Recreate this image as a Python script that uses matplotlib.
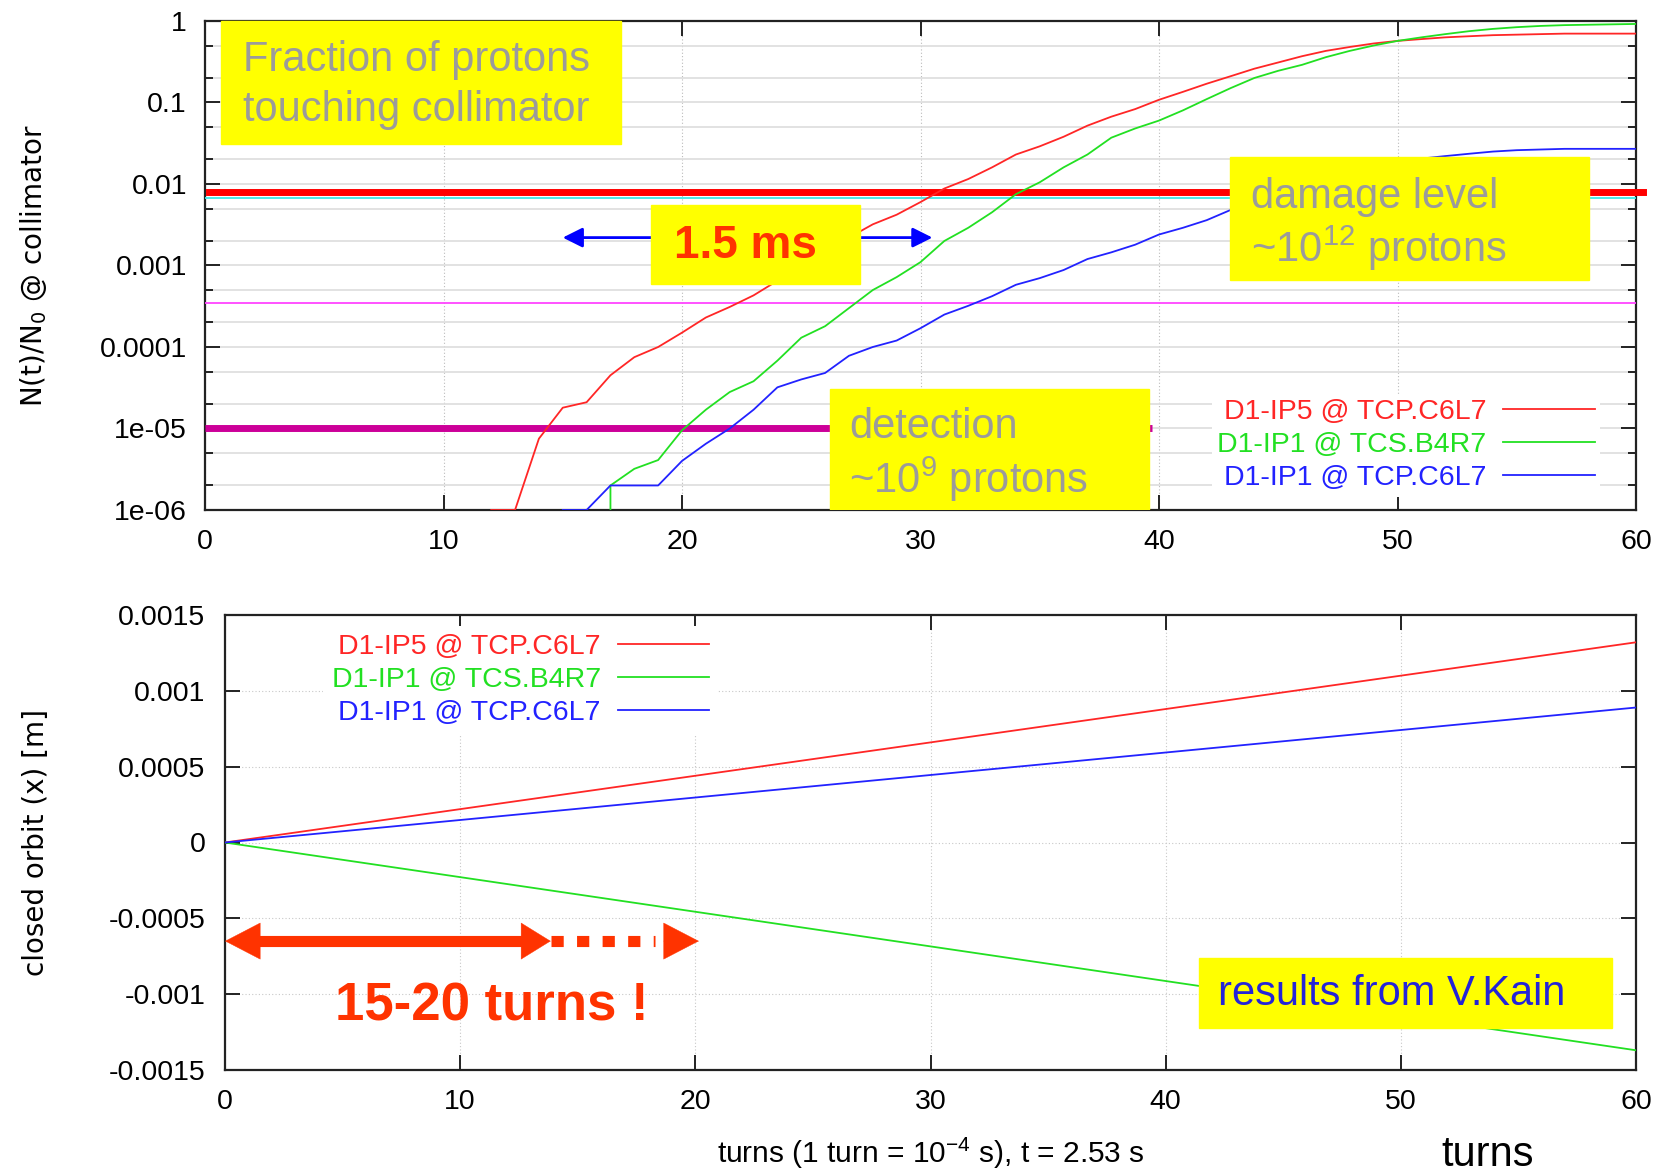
import matplotlib
matplotlib.use("Agg")
import matplotlib.pyplot as plt
import numpy as np
from matplotlib.patches import Rectangle, FancyArrowPatch
from matplotlib.ticker import FixedLocator, FixedFormatter, LogLocator, NullFormatter

ARIAL = 'Liberation Sans'
NARROW = 'Liberation Sans'

plt.rcParams['mathtext.fontset'] = 'custom'
plt.rcParams['mathtext.rm'] = ARIAL
plt.rcParams['mathtext.it'] = ARIAL

# ---------------- data ----------------
series_labels = ["D1-IP5 @ TCP.C6L7", "D1-IP1 @ TCS.B4R7", "D1-IP1 @ TCP.C6L7"]
series_colors = ["#FF2626", "#22E022", "#2222FF"]

red_turns = [12, 13, 14, 15, 16, 17, 18, 19, 20, 21, 22, 23, 24, 25, 26, 27, 28, 29,
             30, 31, 32, 33, 34, 35, 36, 37, 38, 39, 40, 41, 42, 43, 44, 45, 46, 47,
             48, 49, 50, 51, 52, 53, 54, 55, 56, 57, 58, 59, 60]
red_frac = [1e-6, 1e-6, 7.5e-6, 1.8e-5, 2.1e-5, 4.5e-5, 7.5e-5, 1.0e-4, 1.5e-4, 2.3e-4,
            3.1e-4, 4.3e-4, 6.5e-4, 1.0e-3, 1.5e-3, 2.2e-3, 3.2e-3, 4.2e-3, 6.0e-3,
            8.8e-3, 1.15e-2, 1.6e-2, 2.3e-2, 2.9e-2, 3.8e-2, 5.2e-2, 6.7e-2, 8.3e-2,
            0.108, 0.135, 0.17, 0.21, 0.26, 0.31, 0.37, 0.43, 0.48, 0.53, 0.57, 0.60,
            0.63, 0.65, 0.67, 0.68, 0.69, 0.70, 0.70, 0.70, 0.70]

green_turns = [17, 17, 18, 19, 20, 21, 22, 23, 24, 25, 26, 27, 28, 29, 30, 31, 32, 33,
               34, 35, 36, 37, 38, 39, 40, 41, 42, 43, 44, 45, 46, 47, 48, 49, 50, 51,
               52, 53, 54, 55, 56, 57, 58, 59, 60]
green_frac = [1e-6, 2e-6, 3.2e-6, 4.1e-6, 9.5e-6, 1.7e-5, 2.8e-5, 3.8e-5, 6.8e-5, 1.3e-4,
              1.8e-4, 3.0e-4, 5.0e-4, 7.2e-4, 1.1e-3, 2.0e-3, 2.9e-3, 4.5e-3, 7.5e-3,
              1.05e-2, 1.6e-2, 2.3e-2, 3.7e-2, 4.8e-2, 6.0e-2, 8.0e-2, 0.11, 0.15, 0.20,
              0.245, 0.29, 0.36, 0.43, 0.50, 0.57, 0.63, 0.69, 0.75, 0.80, 0.84, 0.87,
              0.89, 0.90, 0.91, 0.92]

blue_turns = [15, 16, 17, 18, 19, 20, 21, 22, 23, 24, 25, 26, 27, 28, 29, 30, 31, 32,
              33, 34, 35, 36, 37, 38, 39, 40, 41, 42, 43, 44, 45, 46, 47, 48, 49, 50,
              51, 52, 53, 54, 55, 56, 57, 58, 59, 60]
blue_frac = [1e-6, 1e-6, 2e-6, 2e-6, 2e-6, 4e-6, 6.5e-6, 1.0e-5, 1.7e-5, 3.2e-5, 4.0e-5,
             4.8e-5, 7.8e-5, 1.0e-4, 1.2e-4, 1.7e-4, 2.5e-4, 3.2e-4, 4.2e-4, 5.8e-4,
             7.0e-4, 8.8e-4, 1.2e-3, 1.45e-3, 1.8e-3, 2.4e-3, 2.9e-3, 3.6e-3, 4.8e-3,
             6.2e-3, 8.0e-3, 1.0e-2, 1.2e-2, 1.45e-2, 1.7e-2, 1.9e-2, 2.05e-2, 2.2e-2,
             2.35e-2, 2.5e-2, 2.6e-2, 2.65e-2, 2.7e-2, 2.7e-2, 2.7e-2, 2.7e-2]

damage_level = 0.008
cyan_level = 0.0068
magenta_level = 3.5e-4
detection_level = 1.0e-5
detection_end_turn = 39.7
time_arrow_turns = [15.0, 30.5]
time_arrow_level = 0.0022

orbit_turns = [0, 60]
orbit_red = [0.0, 0.00132]
orbit_green = [0.0, -0.00137]
orbit_blue = [0.0, 0.00089]

turns_arrow_shaft = [0.8, 13.0]
turns_arrow_left_head = [1.5, 0.0]
turns_arrow_mid_head = [12.5, 13.85]
turns_arrow_dotted = [13.85, 18.3]
turns_arrow_end_head = [18.65, 20.15]
turns_arrow_level = -0.00065

top_yticks = [1, 0.1, 0.01, 0.001, 0.0001, 1e-5, 1e-6]
top_yticklabels = ["1", "0.1", "0.01", "0.001", "0.0001", "1e-05", "1e-06"]
bot_yticks = [0.0015, 0.001, 0.0005, 0, -0.0005, -0.001, -0.0015]
bot_yticklabels = ["0.0015", "0.001", "0.0005", "0", "-0.0005", "-0.001", "-0.0015"]
xticks = [0, 10, 20, 30, 40, 50, 60]

# ---------------- figure ----------------
W, H = 1669, 1172
fig = plt.figure(figsize=(W / 100, H / 100), dpi=100)
fig.patch.set_facecolor("white")

ax1 = fig.add_axes([205 / W, 1 - 510 / H, 1431 / W, 489 / H])
ax2 = fig.add_axes([225 / W, 1 - 1070 / H, 1411 / W, 455 / H])

TICK_FS = 20.5
for ax in (ax1, ax2):
    for s in ax.spines.values():
        s.set_linewidth(1.6)
        s.set_color("#222222")
    ax.tick_params(which="both", direction="in", top=True, right=True,
                   labelsize=TICK_FS, width=1.4, color="#222222")
    ax.tick_params(which="major", length=11)
    ax.tick_params(which="minor", length=6)

# ---- top panel ----
ax1.set_yscale("log")
ax1.set_xlim(0, 60)
ax1.set_ylim(1e-6, 1)
ax1.yaxis.set_major_locator(FixedLocator(top_yticks))
ax1.yaxis.set_major_formatter(FixedFormatter(top_yticklabels))
ax1.yaxis.set_minor_locator(LogLocator(base=10, subs=(2.0, 5.0)))
ax1.yaxis.set_minor_formatter(NullFormatter())
ax1.set_xticks(xticks)
ax1.set_xticklabels([str(t) for t in xticks])
ax1.tick_params(axis="x", pad=14)
ax1.tick_params(axis="y", pad=13)
ax1.grid(axis="y", which="both", color="#DDDDDD", lw=1.2, ls="-")
ax1.grid(axis="x", which="major", color="#BBBBBB", lw=0.8, ls=(0, (1, 2)))
ax1.set_axisbelow(True)

ax1.axhline(damage_level, xmin=0.003, xmax=1.005, color="#FF0000", lw=5, clip_on=False, zorder=3)
ax1.axhline(cyan_level, color="#40E8E8", lw=1.3, zorder=3)
ax1.axhline(magenta_level, color="#FF44FF", lw=1.3, zorder=3)
ax1.plot([0, detection_end_turn], [detection_level, detection_level], color="#CC0099",
         lw=5, zorder=3, solid_capstyle="butt")

lines = []
for xs, ys, c, lab in zip([red_turns, green_turns, blue_turns],
                          [red_frac, green_frac, blue_frac],
                          series_colors, series_labels):
    l, = ax1.plot(xs, ys, color=c, lw=1.3, label=lab, zorder=4)
    lines.append(l)

ax1.annotate("", xy=(time_arrow_turns[0], time_arrow_level),
             xytext=(time_arrow_turns[1], time_arrow_level),
             arrowprops=dict(arrowstyle="<|-|>,head_length=0.6,head_width=0.3",
                             color="#0000FF", lw=2, mutation_scale=20,
                             shrinkA=0, shrinkB=0), zorder=5)

YEL = "#FFFF00"
GREY = "#9B9B9B"
TA = ax1.transAxes
ax1.add_patch(Rectangle((0.011, 0.748), 0.280, 0.252, transform=TA, color=YEL, zorder=6, clip_on=False))
ax1.text(0.0266, 0.921, "Fraction of protons", transform=TA, fontsize=30, color=GREY,
         family=ARIAL, va="center", ha="left", zorder=7)
ax1.text(0.0266, 0.818, "touching collimator", transform=TA, fontsize=30, color=GREY,
         family=ARIAL, va="center", ha="left", zorder=7)

ax1.add_patch(Rectangle((0.312, 0.462), 0.146, 0.162, transform=TA, color=YEL, zorder=6))
ax1.text(0.378, 0.540, "1.5 ms", transform=TA, fontsize=33, color="#FF3300",
         family=ARIAL, weight="bold", va="center", ha="center", zorder=7)

ax1.add_patch(Rectangle((0.716, 0.470), 0.251, 0.251, transform=TA, color=YEL, zorder=6))
ax1.text(0.731, 0.640, "damage level", transform=TA, fontsize=30, color=GREY,
         family=ARIAL, va="center", ha="left", zorder=7)
ax1.text(0.731, 0.536, "~10$^{12}$ protons", transform=TA, fontsize=30, color=GREY,
         family=ARIAL, va="center", ha="left", zorder=7)

ax1.add_patch(Rectangle((0.437, 0.0), 0.223, 0.248, transform=TA, color=YEL, zorder=6))
ax1.text(0.450, 0.170, "detection", transform=TA, fontsize=30, color=GREY,
         family=ARIAL, va="center", ha="left", zorder=7)
ax1.text(0.450, 0.063, "~10$^{9}$ protons", transform=TA, fontsize=30, color=GREY,
         family=ARIAL, va="center", ha="left", zorder=7)

leg1 = ax1.legend(handles=lines, loc="lower right", bbox_to_anchor=(0.975, 0.027),
                  markerfirst=False, labelcolor="linecolor", frameon=True,
                  facecolor="white", edgecolor="none", framealpha=1, fancybox=False,
                  prop={"family": NARROW, "size": 20.5}, handlelength=3.2,
                  handletextpad=0.6, labelspacing=0.24, borderpad=0.2, borderaxespad=0)
leg1.set_zorder(8)

ax1.set_ylabel("N(t)/N$_0$ @ collimator", fontsize=20, family="DejaVu Sans",
               math_fontfamily="dejavusans")
ax1.yaxis.set_label_coords(-0.109, 0.5)

# ---- bottom panel ----
ax2.set_xlim(0, 60)
ax2.set_ylim(-0.0015, 0.0015)
ax2.set_xticks(xticks)
ax2.set_xticklabels([str(t) for t in xticks])
ax2.set_yticks(bot_yticks)
ax2.set_yticklabels(bot_yticklabels)
ax2.tick_params(axis="x", pad=14)
ax2.tick_params(axis="y", pad=14)
ax2.grid(True, which="major", color="#C8C8C8", lw=0.8, ls=(0, (1, 2)))
ax2.set_axisbelow(True)
for lab in ax2.get_xticklabels() + ax2.get_yticklabels() + ax1.get_xticklabels() + ax1.get_yticklabels():
    lab.set_fontfamily(NARROW)

lines2 = []
for ys, c, lab in zip([orbit_red, orbit_green, orbit_blue], series_colors, series_labels):
    l, = ax2.plot(orbit_turns, ys, color=c, lw=1.3, label=lab, zorder=4)
    lines2.append(l)

leg2 = ax2.legend(handles=lines2, loc="upper right", bbox_to_anchor=(0.349, 0.976),
                  markerfirst=False, labelcolor="linecolor", frameon=True,
                  facecolor="white", edgecolor="none", framealpha=1, fancybox=False,
                  prop={"family": NARROW, "size": 20.5}, handlelength=3.2,
                  handletextpad=0.6, labelspacing=0.24, borderpad=0.3, borderaxespad=0)
leg2.set_zorder(8)

OR = "#FF3300"
ax2.plot(turns_arrow_shaft, [turns_arrow_level] * 2, color=OR, lw=8,
         solid_capstyle="butt", zorder=6)
ax2.plot(turns_arrow_dotted, [turns_arrow_level] * 2, color=OR, lw=8,
         ls=(0, (1.1, 1.2)), dash_capstyle="butt", zorder=6)
for seg, hl in [(turns_arrow_left_head, 1.25), (turns_arrow_mid_head, 1.05),
                (turns_arrow_end_head, 1.25)]:
    ax2.add_patch(FancyArrowPatch((seg[0], turns_arrow_level), (seg[1], turns_arrow_level),
                                  arrowstyle="-|>,head_length=%g,head_width=0.65" % hl,
                                  mutation_scale=20, color=OR, lw=0.3, shrinkA=0, shrinkB=0,
                                  zorder=6, clip_on=False))
ax2.text(0.189, 0.14, "15-20 turns !", transform=ax2.transAxes, fontsize=38, color=OR,
         family=ARIAL, weight="bold", va="center", ha="center", zorder=7)

TB = ax2.transAxes
ax2.add_patch(Rectangle((0.690, 0.092), 0.293, 0.154, transform=TB, color=YEL, zorder=6))
ax2.text(0.704, 0.167, "results from V.Kain", transform=TB, fontsize=30, color="#2424D8",
         family=ARIAL, va="center", ha="left", zorder=7)

ax2.set_ylabel("closed orbit (x) [m]", fontsize=20, family="DejaVu Sans")
ax2.yaxis.set_label_coords(-0.124, 0.5)

fig.text(0.558, 0.0075, "turns (1 turn = 10$^{-4}$ s), t = 2.53 s", fontsize=21.5,
         family=NARROW, ha="center", va="baseline")
fig.text(0.8916, 0.005, "turns", fontsize=30, family=NARROW, ha="center", va="baseline")

fig.savefig("out.png", dpi=100, facecolor="white")
